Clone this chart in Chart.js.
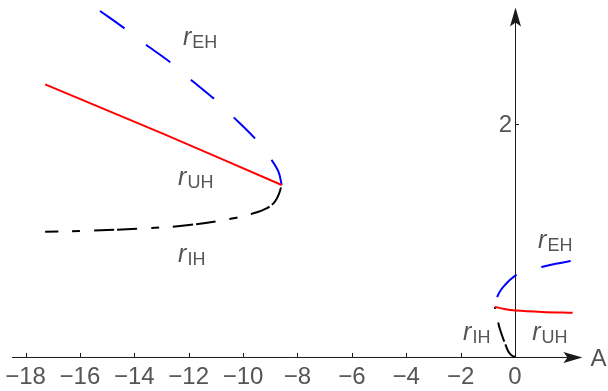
<!DOCTYPE html>
<html>
<head>
<meta charset="utf-8">
<script src="https://cdn.jsdelivr.net/npm/chart.js@4/dist/chart.umd.min.js"></script>
<style>
  html, body { margin: 0; padding: 0; background: #fff; }
  #wrap { width: 608px; height: 391px; position: relative; }
</style>
</head>
<body>
<div id="wrap"><canvas id="c"></canvas></div>
<script>
// values (A on x, r on y)
var xTicks = [-18, -16, -14, -12, -10, -8, -6, -4, -2, 0];
var yTicks = [2];

// left branch, meeting at the fold near A = -8.58
var ehLeftA = [-15.26, -14.36, -13.57, -12.68, -11.92, -11.09, -10.36, -9.58, -8.98, -8.70, -8.58];
var ehLeftR = [2.97, 2.82, 2.68, 2.53, 2.38, 2.22, 2.06, 1.88, 1.70, 1.59, 1.476];
var uhLeftA = [-17.28, -12.93, -8.58];
var uhLeftR = [2.34, 1.915, 1.476];
var ihLeftA = [-17.28, -15.5, -13.91, -12.07, -10.36, -9.62, -9.1, -8.83, -8.68, -8.58];
var ihLeftR = [1.075, 1.085, 1.10, 1.13, 1.19, 1.233, 1.28, 1.333, 1.40, 1.476];

// right branch, meeting at the fold near A = -0.74
var ehRightA = [-0.74, -0.65, -0.52, -0.37, -0.17, 0.06, 0.5, 1.02, 1.5, 2.12];
var ehRightR = [0.43, 0.518, 0.575, 0.618, 0.665, 0.704, 0.745, 0.775, 0.80, 0.827];
var uhRightA = [-0.74, -0.4, 0.02, 1.0, 2.12];
var uhRightR = [0.43, 0.412, 0.399, 0.387, 0.38];
var ihRightA = [-0.74, -0.66, -0.58, -0.47, -0.37, -0.25, -0.12, 0];
var ihRightR = [0.43, 0.34, 0.26, 0.18, 0.118, 0.05, 0.012, 0];

// curve labels: [A, r, subscript]
var labelA = [-12.21, -12.39, -12.39, 0.85, -1.91, 0.63];
var labelR = [2.678, 1.476, 0.815, 0.936, 0.146, 0.146];
var labelSub = ["EH", "UH", "IH", "EH", "IH", "UH"];

function pts(xs, ys) {
  var out = [];
  for (var i = 0; i < xs.length; i++) out.push({ x: xs[i], y: ys[i] });
  return out;
}

function line(data, color, dash, offset, tension) {
  return {
    data: data, showLine: true, borderColor: color, borderWidth: 2,
    pointRadius: 0, tension: tension === undefined ? 0.35 : tension, fill: false,
    borderDash: dash || [], borderDashOffset: offset || 0,
    borderCapStyle: "butt"
  };
}

var TXT = "#555555";

var axesPlugin = {
  id: "axes",
  beforeDatasetsDraw: function (chart) {
    var ctx = chart.ctx, xs = chart.scales.x, ys = chart.scales.y;
    var x0 = xs.getPixelForValue(0), y0 = ys.getPixelForValue(0);
    var xL = xs.getPixelForValue(-18.5), xR = xs.getPixelForValue(2.48);
    var yT = ys.getPixelForValue(3.0);
    ctx.save();
    ctx.strokeStyle = "#1a1a1a";
    ctx.fillStyle = "#1a1a1a";
    ctx.lineWidth = 1;
    ctx.beginPath();
    ctx.moveTo(xL, y0 + 0.5); ctx.lineTo(xR - 10, y0 + 0.5);
    ctx.moveTo(x0 + 0.5, y0); ctx.lineTo(x0 + 0.5, yT + 10);
    ctx.stroke();
    // arrow heads
    ctx.beginPath();
    ctx.moveTo(xR, y0 + 0.5);
    ctx.lineTo(xR - 19, y0 + 0.5 - 5.5);
    ctx.lineTo(xR - 15, y0 + 0.5);
    ctx.lineTo(xR - 19, y0 + 0.5 + 5.5);
    ctx.closePath(); ctx.fill();
    ctx.beginPath();
    ctx.moveTo(x0 + 0.5, yT);
    ctx.lineTo(x0 + 0.5 - 5.5, yT + 19);
    ctx.lineTo(x0 + 0.5, yT + 15);
    ctx.lineTo(x0 + 0.5 + 5.5, yT + 19);
    ctx.closePath(); ctx.fill();
    // ticks
    ctx.beginPath();
    xTicks.forEach(function (t) {
      var px = Math.round(xs.getPixelForValue(t)) + 0.5;
      ctx.moveTo(px, y0); ctx.lineTo(px, y0 - 4);
    });
    yTicks.forEach(function (t) {
      var py = Math.round(ys.getPixelForValue(t)) + 0.5;
      ctx.moveTo(x0, py); ctx.lineTo(x0 + 4, py);
    });
    ctx.stroke();
    // tick labels
    ctx.fillStyle = TXT;
    ctx.font = "24px 'Liberation Sans', Arial, sans-serif";
    ctx.textAlign = "center"; ctx.textBaseline = "top";
    xTicks.forEach(function (t) {
      var s = t < 0 ? "\u2212" + Math.abs(t) : String(t);
      ctx.fillText(s, xs.getPixelForValue(t), y0 + 8);
    });
    ctx.textAlign = "right"; ctx.textBaseline = "middle";
    yTicks.forEach(function (t) {
      ctx.fillText(String(t), x0 - 3, ys.getPixelForValue(t) + 1);
    });
    ctx.textAlign = "left";
    ctx.fillText("A", xR + 8, y0 + 2);
    // curve labels
    ctx.textBaseline = "alphabetic";
    for (var i = 0; i < labelA.length; i++) {
      var lx = xs.getPixelForValue(labelA[i]), ly = ys.getPixelForValue(labelR[i]);
      ctx.font = "italic 25px 'Liberation Sans', Arial, sans-serif";
      ctx.fillText("r", lx, ly);
      var w = ctx.measureText("r").width;
      ctx.font = "18px 'Liberation Sans', Arial, sans-serif";
      ctx.fillText(labelSub[i], lx + w + 1, ly + 3);
    }
    ctx.restore();
  }
};

new Chart(document.getElementById("c"), {
  type: "scatter",
  data: {
    datasets: [
      line(pts(uhLeftA, uhLeftR), "#ff0000", null, 0, 0.2),
      line(pts(uhRightA, uhRightR), "#ff0000"),
      line(pts(ehLeftA, ehLeftR), "#0000ff", [30, 27], 0),
      line(pts(ehRightA, ehRightR), "#0000ff", [30, 26], 46),
      line(pts(ihLeftA, ihLeftR), "#000000", [20, 3, 20, 14, 8, 14], 30),
      line(pts(ihRightA, ihRightR), "#000000", [20, 3, 20, 14, 8, 14], 63)
    ]
  },
  options: {
    responsive: true, maintainAspectRatio: false, animation: false,
    layout: { padding: 0 },
    plugins: { legend: { display: false }, tooltip: { enabled: false } },
    scales: {
      x: { type: "linear", min: -18.94, max: 3.42, display: false },
      y: { type: "linear", min: -0.292, max: 3.064, display: false }
    }
  },
  plugins: [axesPlugin]
});
</script>
</body>
</html>
